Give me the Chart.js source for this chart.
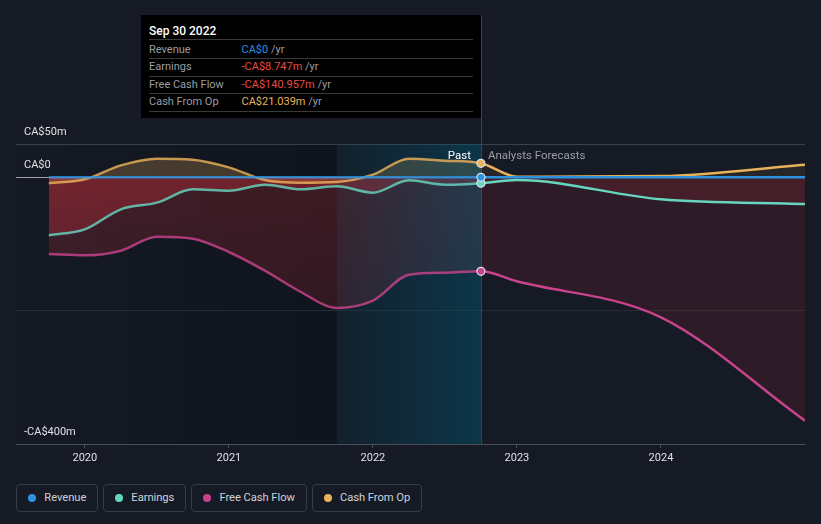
<!DOCTYPE html>
<html>
<head>
<meta charset="utf-8">
<script src="https://cdn.jsdelivr.net/npm/chart.js@4.4.0/dist/chart.umd.min.js"></script>
<style>
html,body{margin:0;padding:0;background:#151a24;width:821px;height:524px;overflow:hidden;font-family:Roboto,"Noto Sans",sans-serif;}
#wrap{position:relative;width:821px;height:524px;}
#cv{position:absolute;left:0;top:0;width:821px;height:475px;}
#tip{position:absolute;left:141px;top:15px;width:340px;height:103px;background:#000;box-sizing:border-box;padding:8px 8px 0 8px;}
#tip .t{font-size:12px;line-height:16px;height:16px;color:#fff;font-weight:500;margin-bottom:2px;border-bottom:1px solid #3a3a3a;padding-bottom:0;}
#tip .r{font-size:11px;height:16.4px;line-height:16.4px;border-bottom:1px solid #3a3a3a;color:#9a9da3;white-space:nowrap;}
#tip .k{display:inline-block;width:92.5px;}
#tip .u{color:#9a9da3;}
#legend{position:absolute;left:16px;top:484px;display:flex;gap:4.8px;}
#legend .b{height:27.5px;box-sizing:border-box;border:1px solid #363b46;border-radius:4px;display:flex;align-items:center;padding:0 11px 0 11px;font-size:11.2px;color:#cfd2d8;letter-spacing:-0.05px;}
#legend .d{width:8px;height:8px;border-radius:50%;margin-right:8.3px;}
</style>
</head>
<body>
<div id="wrap">
<canvas id="cv" width="821" height="475"></canvas>
<div id="tip"></div>
<div id="legend"></div>
</div>
<script>
// ---- data (CA$ millions, dates as decimal years) ----
const dates        = [2019.75, 2020.0, 2020.25, 2020.5, 2020.75, 2021.0, 2021.25, 2021.5, 2021.75, 2022.0, 2022.25, 2022.5, 2022.75, 2023.0, 2024.0, 2025.0];
const revenue      = [0, 0, 0, 0, 0, 0, 0, 0, 0, 0, 0, 0, 0, 0, 0, 0];
const earnings     = [-87, -78, -48, -38, -18, -20, -11, -18, -13.5, -23, -4.5, -11, -8.747, -4, -33, -40];
const freeCashFlow = [-115, -117, -110, -89, -92, -112, -140, -172, -196, -185, -146, -143, -140.957, -156, -210, -365];
const cashFromOp   = [-9, -3, 18, 28, 26.5, 15, -4, -8, -7, 4, 28, 25, 21.039, 1, 2, 19];
const seriesNames  = ['Revenue', 'Earnings', 'Free Cash Flow', 'Cash From Op'];
const yearTicks    = [2020, 2021, 2022, 2023, 2024];
const valueTicks   = [50, 0, -200, -400];
const valueTickLabels = ['CA$50m', 'CA$0', '', '-CA$400m'];
const highlightStart = 2021.75;
const forecastStart  = 2022.75;
const tooltipTitle   = 'Sep 30 2022';
const tooltipIndex   = 12;

// ---- styles ----
const colors  = ['#2d92df', '#66d6bf', '#c8438b', '#e9b15a'];
const rgbs    = ['45,146,223', '102,214,191', '200,67,139', '233,177,90'];
const FONT = 'Roboto, "Noto Sans", sans-serif';
Chart.defaults.font.family = FONT;

const pts = arr => dates.map((d, i) => ({x: d, y: arr[i]}));
const isPast = c => c.p1.parsed.x <= forecastStart + 1e-9;

const gradCache = {};
function vGrad(chart, rgb, a0, a1) {
  const {chartArea, scales} = chart;
  if (!chartArea || !scales.y) return `rgba(${rgb},${a0})`;
  const y0 = scales.y.getPixelForValue(0);
  const key = [rgb, a0, a1, y0, chartArea.bottom].join('|');
  if (!gradCache[key]) {
    const g = chart.ctx.createLinearGradient(0, y0, 0, chartArea.bottom);
    g.addColorStop(0, `rgba(${rgb},${a0})`);
    g.addColorStop(1, `rgba(${rgb},${a1})`);
    gradCache[key] = g;
  }
  return gradCache[key];
}

function makeDataset(i, arr, fillOpts) {
  const pastLine = `rgba(${rgbs[i]},0.82)`;
  const ds = {
    label: seriesNames[i],
    data: pts(arr),
    borderColor: colors[i],
    borderWidth: 2.5,
    cubicInterpolationMode: 'monotone',
    pointRadius: c => c.dataIndex === tooltipIndex ? 4 : 0,
    pointBackgroundColor: colors[i],
    pointBorderColor: '#dfe4ea',
    pointBorderWidth: 1.2,
    fill: false,
    segment: {
      borderColor: c => isPast(c) ? pastLine : colors[i]
    }
  };
  if (fillOpts) {
    ds.fill = 'origin';
    ds.backgroundColor = fillOpts.future;
    ds.segment.backgroundColor = c => isPast(c) ? fillOpts.past(c.chart) : fillOpts.future;
  }
  return ds;
}

const RED = '225,50,62';
const datasets = [
  makeDataset(0, revenue, null),
  makeDataset(1, earnings, {past: ch => vGrad(ch, RED, 0.30, 0.06), future: `rgba(${RED},0.13)`}),
  makeDataset(2, freeCashFlow, {past: ch => vGrad(ch, RED, 0.22, 0.10), future: `rgba(${RED},0.12)`}),
  makeDataset(3, cashFromOp, {past: () => 'rgba(233,177,90,0.24)', future: 'rgba(233,177,90,0.09)'})
];

const backPlugin = {
  id: 'backBands',
  beforeDraw(chart) {
    const {ctx, chartArea: a, scales: {x}} = chart;
    const xh = x.getPixelForValue(highlightStart);
    const g = ctx.createLinearGradient(a.left, 0, xh, 0);
    g.addColorStop(0, 'rgba(0,0,0,0)');
    g.addColorStop(1, 'rgba(0,0,0,0.22)');
    ctx.save();
    ctx.fillStyle = g;
    ctx.fillRect(a.left, a.top, xh - a.left, a.bottom - a.top);
    ctx.restore();
  }
};

const highlightPlugin = {
  id: 'highlight',
  beforeDatasetsDraw(chart) {
    const {ctx, chartArea: a, scales: {x}} = chart;
    const x0 = x.getPixelForValue(highlightStart);
    const x1 = x.getPixelForValue(forecastStart);
    const g = ctx.createLinearGradient(x0, 0, x1, 0);
    g.addColorStop(0, 'rgba(0,90,120,0.10)');
    g.addColorStop(1, 'rgba(0,95,125,0.42)');
    ctx.save();
    ctx.fillStyle = g;
    ctx.fillRect(x0, a.top, x1 - x0, a.bottom - a.top);
    ctx.strokeStyle = 'rgba(40,120,150,0.55)';
    ctx.lineWidth = 1;
    ctx.beginPath();
    ctx.moveTo(Math.round(x1) + 0.5, 15);
    ctx.lineTo(Math.round(x1) + 0.5, a.bottom);
    ctx.stroke();
    ctx.restore();
  },
  afterDatasetsDraw(chart) {
    const {ctx, scales: {x, y}} = chart;
    const xp = x.getPixelForValue(forecastStart);
    const yy = y.getPixelForValue(50) + 12;
    ctx.save();
    ctx.font = '11.5px ' + FONT;
    ctx.textBaseline = 'middle';
    ctx.textAlign = 'right';
    ctx.fillStyle = '#ffffff';
    ctx.fillText('Past', xp - 10, yy);
    ctx.textAlign = 'left';
    ctx.fillStyle = '#9a9ea6';
    ctx.fillText('Analysts Forecasts', xp + 7, yy);
    ctx.restore();
  }
};

new Chart(document.getElementById('cv'), {
  type: 'line',
  data: {datasets},
  options: {
    responsive: false,
    animation: false,
    events: [],
    layout: {padding: {left: 16, right: 16, top: 144, bottom: 0}},
    plugins: {
      legend: {display: false},
      tooltip: {enabled: false},
      filler: {drawTime: 'beforeDatasetsDraw'}
    },
    scales: {
      x: {
        type: 'linear',
        min: 2019.522,
        max: 2025.0,
        afterBuildTicks: s => { s.ticks = yearTicks.map(v => ({value: v})); },
        afterFit: s => { s.height = 31; },
        ticks: {color: '#dfe1e5', font: {size: 11}, padding: 4, callback: v => String(v), maxRotation: 0, autoSkip: false},
        grid: {drawOnChartArea: false, drawTicks: true, tickLength: 4, color: '#4a4f59'},
        border: {display: true, color: '#4a4f59'}
      },
      y: {
        type: 'linear',
        min: -400,
        max: 50,
        afterBuildTicks: s => { s.ticks = valueTicks.map(v => ({value: v})); },
        afterFit: s => { s.width = 0; },
        ticks: {
          mirror: true,
          padding: 8,
          labelOffset: -12,
          color: '#dfe1e5',
          font: {size: 11},
          callback: v => valueTickLabels[valueTicks.indexOf(v)]
        },
        grid: {
          drawTicks: false,
          color: c => {
            const v = c.tick && c.tick.value;
            if (v === 0) return '#9ea2a8';
            if (v === 50) return '#3a3f49';
            if (v === -400) return '#4a4f59';
            return '#262b34';
          }
        },
        border: {display: false}
      }
    }
  },
  plugins: [backPlugin, highlightPlugin]
});

// ---- tooltip box (HTML text) ----
function fmt(v) {
  if (v === 0) return 'CA$0';
  return (v < 0 ? '-' : '') + 'CA$' + Math.abs(v).toFixed(3) + 'm';
}
const allSeries = [revenue, earnings, freeCashFlow, cashFromOp];
const tip = document.getElementById('tip');
let html = `<div class="t">${tooltipTitle}</div>`;
allSeries.forEach((arr, i) => {
  const v = arr[tooltipIndex];
  const col = v < 0 ? '#ea4a42' : colors[i];
  html += `<div class="r"><span class="k">${seriesNames[i]}</span><span style="color:${col}">${fmt(v)}</span><span class="u"> /yr</span></div>`;
});
tip.innerHTML = html;

// ---- legend ----
const legend = document.getElementById('legend');
seriesNames.forEach((n, i) => {
  const b = document.createElement('div');
  b.className = 'b';
  b.innerHTML = `<span class="d" style="background:${colors[i]}"></span><span>${n}</span>`;
  legend.appendChild(b);
});
</script>
</body>
</html>
